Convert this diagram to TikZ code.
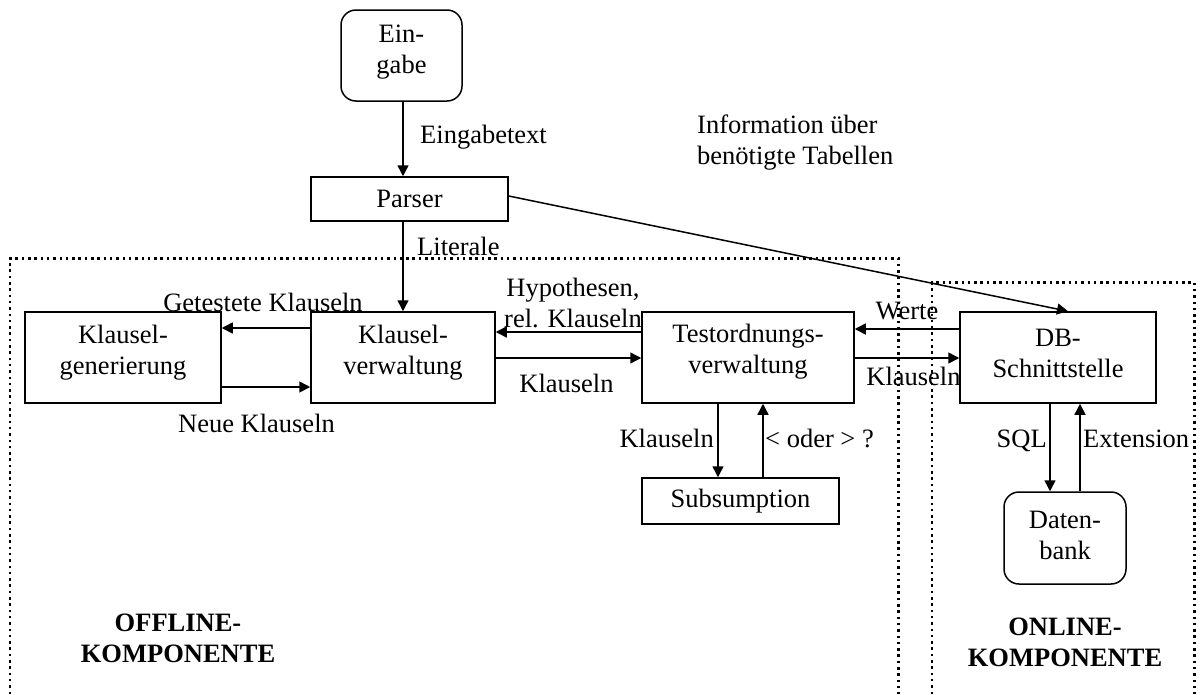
\documentclass[tikz,border=0pt]{standalone}
\usepackage{fontspec}
\setmainfont{Liberation Serif}
\usetikzlibrary{arrows.meta}
\begin{document}
\begin{tikzpicture}[x=1pt,y=1pt,
  every node/.style={font=\fontsize{26.5}{31}\selectfont, inner sep=0pt},
  box/.style={draw, line width=1.5pt},
  rbox/.style={box, rounded corners=15pt},
  txt/.style={align=center},
  lbl/.style={align=center},
  title/.style={align=center, font=\fontsize{26.5}{31}\selectfont\bfseries},
  arr/.style={line width=1.5pt, -{Triangle[length=11pt,width=11pt]}},
  dotline/.style={line width=2.2pt, dash pattern=on 2.5pt off 3.8pt}]
\useasboundingbox (0,0) rectangle (1203,-694);

% component frames (open at the bottom)
\draw[dotline] (10,-694) -- (10,-258.5) -- (898.5,-258.5) -- (898.5,-694);
\draw[dotline] (932,-694) -- (932,-282.5) -- (1194.5,-282.5) -- (1194.5,-694);

% boxes
\node[rbox, minimum width=121, minimum height=91] (eingabe) at (401.5,-55.5) {};
\node[txt] (eingabetxt) at ([yshift=3.5]eingabe.center) {Ein-\\gabe};

\node[box, minimum width=197, minimum height=44] (parser) at (409.5,-199) {Parser};

\node[box, minimum width=196, minimum height=91] (gen) at (123,-357.5) {};
\node[txt] (gentxt) at ([yshift=4.5]gen.center) {Klausel-\\generierung};

\node[box, minimum width=184, minimum height=91] (verw) at (403,-357.5) {};
\node[txt] (verwtxt) at ([yshift=4.5]verw.center) {Klausel-\\verwaltung};

\node[box, minimum width=212, minimum height=91] (test) at (748,-357.5) {};
\node[txt] (testtxt) at ([yshift=5.5]test.center) {Testordnungs-\\verwaltung};

\node[box, minimum width=196, minimum height=91] (db) at (1058,-357.5) {};
\node[txt] (dbtxt) at ([yshift=4]db.center) {DB-\\Schnittstelle};

\node[box, minimum width=197, minimum height=46] (subs) at (740.5,-501) {Subsumption};

\node[rbox, minimum width=122, minimum height=92] (bank) at (1065,-538) {};
\node[txt] (banktxt) at ([yshift=3]bank.center) {Daten-\\bank};

% connectors
\coordinate (axis) at (403,0);
\draw[arr] (axis |- eingabe.south) -- (axis |- parser.north);
\draw[arr] (axis |- parser.south) -- (axis |- verw.north);
\draw[arr] ([yshift=3]parser.east) -- ([xshift=10]db.north);

\draw[arr] ([yshift=29.5]verw.west) -- ([yshift=29.5]gen.east);
\draw[arr] ([yshift=-29.5]gen.east) -- ([yshift=-29.5]verw.west);

\draw[arr] ([yshift=25.5]test.west) -- ([yshift=25.5]verw.east);
\draw[arr] ([yshift=-0.5]verw.east) -- ([yshift=-0.5]test.west);

\draw[arr] ([yshift=28.5]db.west) -- ([yshift=28.5]test.east);
\draw[arr] ([yshift=-0.5]test.east) -- ([yshift=-0.5]db.west);

\draw[arr] ([xshift=-30]test.south) -- ([xshift=-30]test.south |- subs.north);
\draw[arr] ([xshift=15]test.south |- subs.north) -- ([xshift=15]test.south);

\draw[arr] ([xshift=-8]db.south) -- ([xshift=-8]db.south |- bank.north);
\draw[arr] ([xshift=22]db.south |- bank.north) -- ([xshift=22]db.south);

% connector labels
\node[lbl, anchor=west] (l1) at (420,-137) {Eingabetext};
\node[lbl, anchor=west] (l2) at (417,-246) {Literale};
\node[align=left, anchor=west] (l3) at (697,-142.5) {Information über\\benötigte Tabellen};
\node[lbl] (l4) at (263,-302) {Getestete Klauseln};
\node[lbl] (l5) at (256.5,-423) {Neue Klauseln};
\node[lbl] (l6) at (573,-302.5) {Hypothesen,\\rel. Klauseln};
\node[lbl] (l7) at (566.5,-383) {Klauseln};
\node[lbl] (l8) at (907,-311.5) {Werte};
\node[lbl] (l9) at (913.5,-376.5) {Klauseln};
\node[lbl, anchor=base east] (l10) at (714,-447) {Klauseln};
\node[lbl, anchor=base west] (l11) at (765,-447) {< oder > ?};
\node[lbl, anchor=base east] (l12) at (1047,-447) {SQL};
\node[lbl, anchor=base west] (l13) at (1083,-447) {Extension};

% component titles
\node[title] (offline) at (178,-638) {OFFLINE-\\KOMPONENTE};
\node[title] (online) at (1065,-642) {ONLINE-\\KOMPONENTE};
\end{tikzpicture}
\end{document}
